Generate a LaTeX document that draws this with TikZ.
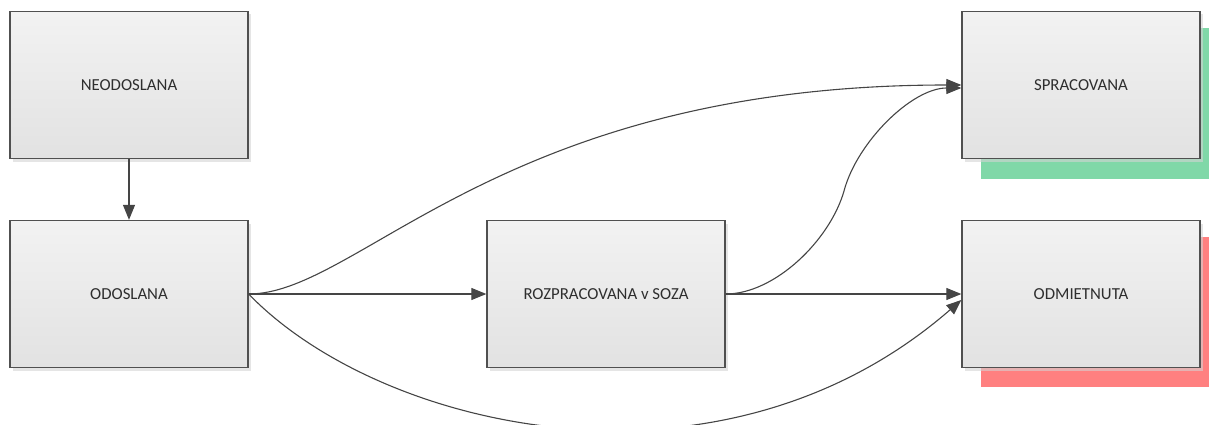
\documentclass[tikz,border=0pt]{standalone}
\usepackage{fontspec}
\setmainfont{Carlito}
\usetikzlibrary{arrows.meta,shadows}
\definecolor{boxborder}{HTML}{505050}
\definecolor{boxtop}{HTML}{F2F2F2}
\definecolor{boxbot}{HTML}{E2E2E2}
\definecolor{lin}{HTML}{454545}
\definecolor{txt}{HTML}{2E2E2E}
\definecolor{okgreen}{HTML}{80D8A8}
\definecolor{badred}{HTML}{FF8080}
\definecolor{shade}{HTML}{D4D4D4}
\begin{document}
\begin{tikzpicture}[x=1pt,y=-1pt,
  state/.style={draw=boxborder, line width=1.3pt, top color=boxtop, bottom color=boxbot,
    minimum width=238pt, minimum height=147pt, inner sep=0pt,
    font=\fontsize{16.8}{19}\selectfont, text=txt,
    drop shadow={shadow xshift=3pt, shadow yshift=-3pt, fill=shade, opacity=0.6}},
  conn/.style={draw=lin, line width=1.1pt, -{Triangle[length=15pt,width=12pt]}}]
\useasboundingbox (0,0) rectangle (1209,425);
\fill[okgreen] (981,28) rectangle (1220,179);
\fill[badred] (981,237) rectangle (1220,387);
\node[state] (neo) at (129,85) {NEODOSLANA};
\node[state] (odo) at (129,294) {ODOSLANA};
\node[state] (roz) at (606,294) {ROZPRACOVANA v SOZA};
\node[state] (spr) at (1081,85) {SPRACOVANA};
\node[state] (odm) at (1081,294) {ODMIETNUTA};
\draw[conn] (neo.south) -- (odo.north);
\draw[conn] (odo.east) -- (roz.west);
\draw[conn] (roz.east) -- (odm.west);
\draw[conn] (odo.east) .. controls (360,294) and (500,85) .. (spr.west);
\draw[conn] (roz.east) .. controls (775,294) and (830,240) .. (844,191)
  .. controls (857,142) and (912,88) .. ([yshift=-3pt]spr.west);
\draw[conn] (odo.east) .. controls (380,430) and (720,510) .. ([yshift=-6pt]odm.west);
\end{tikzpicture}
\end{document}
